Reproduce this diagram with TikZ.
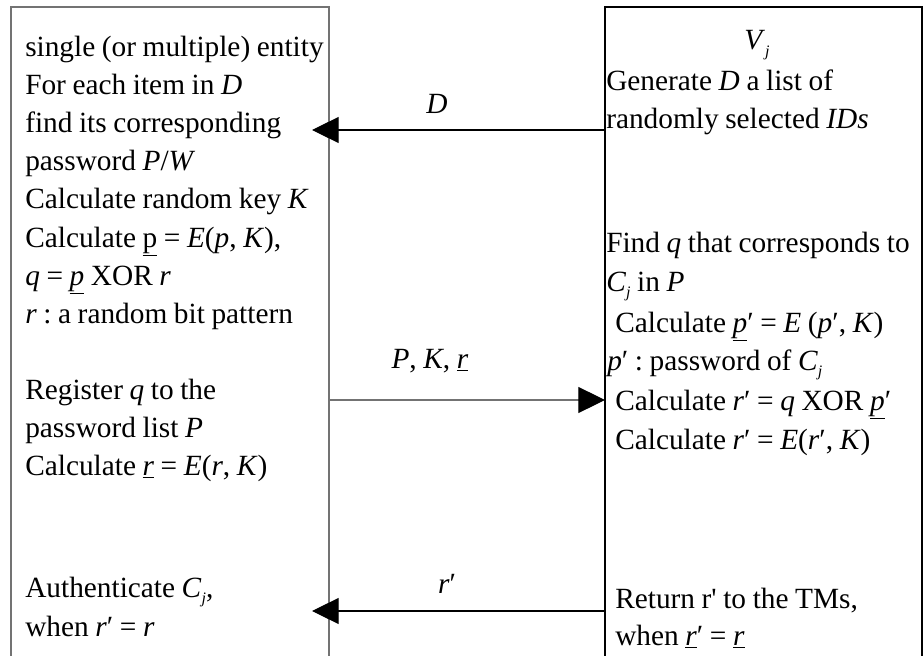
\documentclass[tikz,border=0pt]{standalone}
\usepackage{fontspec}
\setmainfont{Liberation Serif}[WordSpace=0.9]
\frenchspacing
\usetikzlibrary{arrows.meta}
\newcommand{\lowsub}[1]{\raisebox{-5pt}{\fontsize{12pt}{12pt}\selectfont\textit{#1}}}

\begin{document}
\begin{tikzpicture}[x=0.75pt,y=-0.75pt,
  txt/.style={anchor=base west,inner sep=0pt,font=\fontsize{22pt}{26pt}\selectfont},
  lbl/.style={anchor=base,inner sep=0pt,font=\fontsize{22pt}{26pt}\selectfont},
  msg/.style={line width=0.8pt,-{Triangle[length=20pt,width=19.5pt,black]}}]
  \useasboundingbox (0,0) rectangle (924,656);
  % the two parties, boxes open at the bottom
  \draw[line width=0.8pt,black!55] (11,656) -- (11,7) -- (329,7) -- (329,656);
  \draw[line width=0.8pt] (605,656) -- (605,7) -- (922,7) -- (922,656);
  \coordinate (ent-top) at (329,130);
  \coordinate (ent-mid) at (329,400);
  \coordinate (ent-bot) at (329,611);
  \coordinate (tip-top) at (312,130);
  \coordinate (tip-bot) at (312,611);
  \coordinate (ver-top) at (605,130);
  \coordinate (ver-mid) at (605,400);
  \coordinate (ver-bot) at (605,611);
  % entity side
  \node[txt] (e1) at (25,57) {single (or multiple) entity};
  \node[txt] (e2) at (25,95) {For each item in \textit{D}};
  \node[txt] (e3) at (25,133) {find its corresponding};
  \node[txt] (e4) at (25,171) {password \textit{P}/\textit{W}};
  \node[txt] (e5) at (25,209) {Calculate random key \textit{K}};
  \node[txt] (e6) at (25,247) {Calculate \underline{p} = \textit{E}(\textit{p}, \textit{K}),};
  \node[txt] (e7) at (25,285) {\textit{q} = \underline{\textit{p}} XOR \textit{r}};
  \node[txt] (e8) at (25,323) {\textit{r} : a random bit pattern};
  \node[txt] (e9) at (25,399) {Register \textit{q} to the};
  \node[txt] (e10) at (25,437) {password list \textit{P}};
  \node[txt] (e11) at (25,475) {Calculate \underline{\textit{r}} = \textit{E}(\textit{r}, \textit{K})};
  \node[txt] (e12) at (25,597) {Authenticate \textit{C}\lowsub{j},};
  \node[txt] (e13) at (25,636) {when \textit{r}′ = \textit{r}};
  % verifier side
  \node[lbl] (v0) at (757,50) {\textit{V}\lowsub{j}};
  \node[txt] (v1) at (606,91) {Generate \textit{D} a list of};
  \node[txt] (v2) at (606,129) {randomly selected \textit{IDs}};
  \node[txt] (v3) at (606,252) {Find \textit{q} that corresponds to};
  \node[txt] (v4) at (606,291) {\textit{C}\lowsub{j} in \textit{P}};
  \node[txt] (v5) at (615,332) {Calculate \underline{\textit{p}}′ = \textit{E} (\textit{p}′, \textit{K})};
  \node[txt] (v6) at (607,370) {\textit{p}′ : password of \textit{C}\lowsub{j}};
  \node[txt] (v7) at (615,410) {Calculate \textit{r}′ = \textit{q} XOR \underline{\textit{p}}′};
  \node[txt] (v8) at (615,449) {Calculate \textit{r}′ = \textit{E}(\textit{r}′, \textit{K})};
  \node[txt] (v9) at (615,608) {Return r\textquotesingle{} to the TMs,};
  \node[txt] (v10) at (615,645) {when \underline{\textit{r}}′ = \underline{\textit{r}}};
  % messages
  \draw[msg] (ver-top) -- (tip-top);
  \draw[msg,black!55] (ent-mid) -- (ver-mid);
  \draw[msg] (ver-bot) -- (tip-bot);
  \node[lbl] (m1) at (437,114) {\textit{D}};
  \node[lbl] (m2) at (430,368) {\textit{P}, \textit{K}, \underline{\textit{r}}};
  \node[lbl] (m3) at (447,593) {\textit{r}′};
\end{tikzpicture}
\end{document}
